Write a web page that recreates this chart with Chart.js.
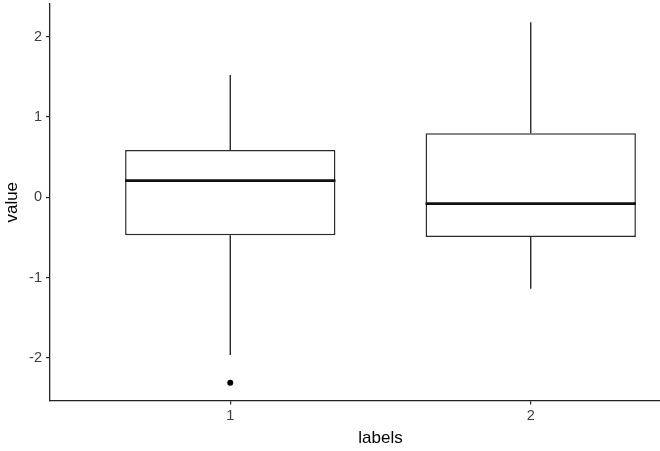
<!DOCTYPE html>
<html>
<head>
<meta charset="utf-8">
<script src="https://cdn.jsdelivr.net/npm/chart.js@4"></script>
<style>
  html, body { margin: 0; padding: 0; background: #fff; }
  #wrap { width: 660px; height: 451px; overflow: hidden; }
</style>
</head>
<body>
<div id="wrap"><canvas id="chart" width="720" height="451"></canvas></div>
<script>
// Données (boîtes à moustaches)
const categories = [1, 2];
const lowerWhisker = [-1.965, -1.14];
const q1 = [-0.473, -0.494];
const median = [0.207, -0.08];
const q3 = [0.589, 0.797];
const upperWhisker = [1.523, 2.18];
const outliers = [[-2.31], []];
const xTicks = [1, 2];
const yTicks = [-2, -1, 0, 1, 2];

const lineColor = '#2b2b2b';
const halfWidth = 0.35;

// Jeux de données : boîtes, médianes, moustaches, points
const datasets = [];
datasets.push({
  type: 'bar',
  order: 2,
  data: categories.map((c, i) => ({ x: c, y: [q1[i], q3[i]] })),
  backgroundColor: '#ffffff',
  borderColor: lineColor,
  borderWidth: 1.5,
  borderSkipped: false,
  barPercentage: 0.7,
  categoryPercentage: 1
});
categories.forEach(function (c, i) {
  datasets.push({
    type: 'line', order: 1,
    data: [{ x: c - halfWidth, y: median[i] }, { x: c + halfWidth, y: median[i] }],
    borderColor: '#111111', borderWidth: 2.8, pointRadius: 0
  });
  datasets.push({
    type: 'line', order: 1,
    data: [{ x: c, y: q3[i] }, { x: c, y: upperWhisker[i] }],
    borderColor: lineColor, borderWidth: 1.4, pointRadius: 0
  });
  datasets.push({
    type: 'line', order: 1,
    data: [{ x: c, y: q1[i] }, { x: c, y: lowerWhisker[i] }],
    borderColor: lineColor, borderWidth: 1.4, pointRadius: 0
  });
});
const outlierPoints = [];
categories.forEach(function (c, i) {
  outliers[i].forEach(function (v) { outlierPoints.push({ x: c, y: v }); });
});
datasets.push({
  type: 'scatter', order: 0,
  data: outlierPoints,
  pointRadius: 3,
  pointBackgroundColor: '#000000',
  pointBorderWidth: 0
});

const font = 'Liberation Sans, Arial, sans-serif';

new Chart(document.getElementById('chart').getContext('2d'), {
  data: { datasets: datasets },
  options: {
    responsive: false,
    animation: false,
    layout: { padding: { top: 4, right: 9, left: 0, bottom: 0 } },
    plugins: { legend: { display: false }, tooltip: { enabled: false } },
    scales: {
      x: {
        type: 'linear',
        min: 0.4,
        max: 2.6,
        offset: false,
        afterBuildTicks: function (scale) { scale.ticks = xTicks.map(v => ({ value: v })); },
        afterFit: function (scale) { scale.height = 50.5; scale.paddingLeft = 0; scale.paddingRight = 0; },
        grid: { offset: false, drawOnChartArea: false, drawTicks: true, tickLength: 4, color: lineColor, lineWidth: 1.2 },
        border: { display: true, color: '#222222', width: 1.3 },
        ticks: { color: '#3d3d3d', padding: 3, font: { family: font, size: 14.5 } },
        title: { display: true, text: 'labels', color: '#000000', padding: { top: 0, bottom: 2.4 }, font: { family: font, size: 17 } }
      },
      y: {
        type: 'linear',
        min: -2.531,
        max: 2.406,
        afterBuildTicks: function (scale) { scale.ticks = yTicks.map(v => ({ value: v })); },
        afterFit: function (scale) { scale.width = 50; scale.paddingTop = 0; scale.paddingBottom = 0; },
        grid: { drawOnChartArea: false, drawTicks: true, tickLength: 4, color: lineColor, lineWidth: 1.2 },
        border: { display: true, color: '#222222', width: 1.3 },
        ticks: { color: '#3d3d3d', padding: 4, font: { family: font, size: 14.5 } },
        title: { display: true, text: 'value', color: '#000000', padding: { top: 2, bottom: 0 }, font: { family: font, size: 17 } }
      }
    }
  }
});
</script>
</body>
</html>
